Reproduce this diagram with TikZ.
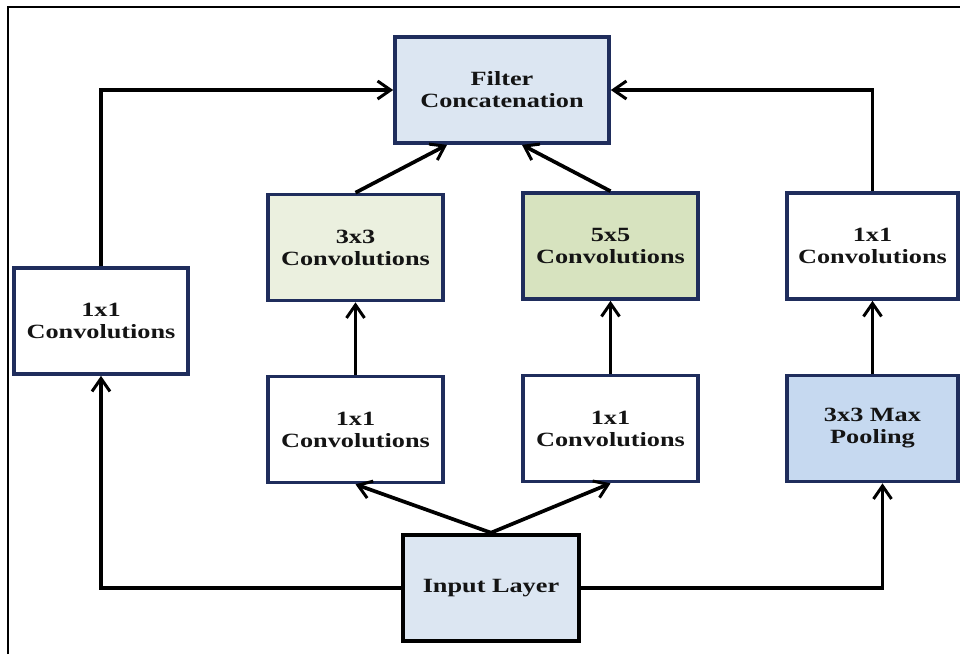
\documentclass[tikz,border=0pt]{standalone}
\usepackage{fontspec}
\setmainfont{Liberation Serif}[FakeStretch=1.3]
\usepackage{xcolor}
\usetikzlibrary{arrows.meta}
\definecolor{boxline}{HTML}{1F2D5C}
\definecolor{concatfill}{HTML}{DCE6F2}
\definecolor{threefill}{HTML}{EBF0DF}
\definecolor{fivefill}{HTML}{D7E3BF}
\definecolor{poolfill}{HTML}{C6D9F0}

\begin{document}
\begin{tikzpicture}[x=0.02cm,y=-0.02cm,
  layer/.style={draw=boxline,line width=2.1pt,align=center,inner sep=2pt,
                minimum width=3.5cm,minimum height=2.12cm,fill=white,
                font=\fontsize{11.5}{12.5}\selectfont\bfseries,text=black!92},
  link/.style={->,line width=2.1pt},
  >={Straight Barb[length=2.6mm,width=3.6mm,line width=1.7pt]}]
\useasboundingbox (0,0) rectangle (960,654);
\draw[line width=1.6pt] (8,654) -- (8,7) -- (960,7);
% boxes
\node[layer,fill=concatfill,minimum width=4.28cm] (concat) at (502,90) {Filter\\Concatenation};
\node[layer,minimum width=3.48cm] (sideconv) at (101,321) {1x1\\Convolutions};
\node[layer,fill=threefill] (conv3) at (355.5,247.5) {3x3\\Convolutions};
\node[layer,fill=fivefill] (conv5) at (610.5,246) {5x5\\Convolutions};
\node[layer,minimum width=3.42cm] (poolconv) at (872.5,246) {1x1\\Convolutions};
\node[layer] (red3) at (355.5,429.5) {1x1\\Convolutions};
\node[layer] (red5) at (610.5,428.5) {1x1\\Convolutions};
\node[layer,fill=poolfill,minimum width=3.42cm] (pool) at (872.5,428.5) {3x3 Max\\Pooling};
\node[layer,fill=concatfill,draw=black,line width=2.6pt,minimum width=3.52cm] (input) at (491,588) {Input Layer};
% connectors
\draw[link] (input.west) -| (sideconv.south);
\draw[link] (sideconv.north) |- (concat.west);
\draw[link] (input.north) -- (red3.south);
\draw[link] (input.north) -- (red5.south);
\draw[link] (red3) -- (conv3);
\draw[link] (red5) -- (conv5);
\draw[link] (conv3.north) -- ([xshift=-1.1cm]concat.south);
\draw[link] (conv5.north) -- ([xshift=0.4cm]concat.south);
\draw[link] (input.east) -| ([xshift=0.2cm]pool.south);
\draw[link] (pool) -- (poolconv);
\draw[link] (poolconv.north) |- (concat.east);
\end{tikzpicture}
\end{document}
